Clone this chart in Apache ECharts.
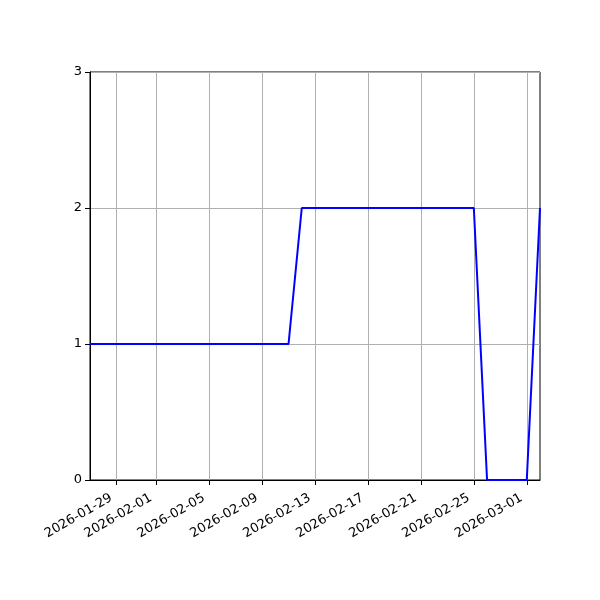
<!DOCTYPE html>
<html>
<head>
<meta charset="utf-8">
<script src="https://cdn.jsdelivr.net/npm/echarts@6/dist/echarts.min.js"></script>
<style>html,body{margin:0;padding:0;background:#fff}#c{width:600px;height:600px}</style>
</head>
<body>
<div id="c"></div>
<script>
var dates = [
  '2026-01-27','2026-01-28','2026-01-29','2026-01-30','2026-01-31',
  '2026-02-01','2026-02-02','2026-02-03','2026-02-04','2026-02-05',
  '2026-02-06','2026-02-07','2026-02-08','2026-02-09','2026-02-10',
  '2026-02-11','2026-02-12','2026-02-13','2026-02-14','2026-02-15',
  '2026-02-16','2026-02-17','2026-02-18','2026-02-19','2026-02-20',
  '2026-02-21','2026-02-22','2026-02-23','2026-02-24','2026-02-25',
  '2026-02-26','2026-02-27','2026-02-28','2026-03-01','2026-03-02'
];
var values = [
  1,1,1,1,1,
  1,1,1,1,1,
  1,1,1,1,1,
  1,2,2,2,2,
  2,2,2,2,2,
  2,2,2,2,2,
  0,0,0,0,2
];
var tickLabels = ['2026-01-29','2026-02-01','2026-02-05','2026-02-09','2026-02-13','2026-02-17','2026-02-21','2026-02-25','2026-03-01'];
var yTicks = [0,1,2,3];

function isTick(i){ return tickLabels.indexOf(dates[i]) >= 0; }

var chart = echarts.init(document.getElementById('c'), null, {renderer:'canvas'});
chart.setOption({
  animation: false,
  backgroundColor: '#fff',
  grid: {left: 90, right: 60, top: 72, bottom: 120, show: true, borderColor: '#000', borderWidth: 1, backgroundColor: 'transparent'},
  xAxis: {
    type: 'category',
    data: dates,
    boundaryGap: false,
    axisLine: {show: true, lineStyle: {color: '#000', width: 1}},
    axisTick: {show: true, inside: false, length: 5, interval: function(i){return isTick(i);}, lineStyle: {color: '#000'}},
    axisLabel: {
      interval: function(i){return isTick(i);},
      rotate: 30, margin: 14, padding: [0, 6, 0, 0], color: '#000', fontFamily: 'DejaVu Sans', fontSize: 13
    },
    splitLine: {show: true, interval: function(i){return isTick(i);}, lineStyle: {color: '#b0b0b0', width: 1}}
  },
  yAxis: {
    type: 'value',
    min: yTicks[0], max: yTicks[yTicks.length-1], interval: 1,
    axisLine: {show: true, lineStyle: {color: '#000', width: 1}},
    axisTick: {show: true, inside: false, length: 5, lineStyle: {color: '#000'}},
    axisLabel: {margin: 8, color: '#000', fontFamily: 'DejaVu Sans', fontSize: 13},
    splitLine: {show: true, lineStyle: {color: '#b0b0b0', width: 1}}
  },
  series: [{
    type: 'line',
    data: values,
    showSymbol: false,
    symbol: 'none',
    lineStyle: {color: '#0000ff', width: 2},
    itemStyle: {color: '#0000ff'}
  }]
});
</script>
</body>
</html>
